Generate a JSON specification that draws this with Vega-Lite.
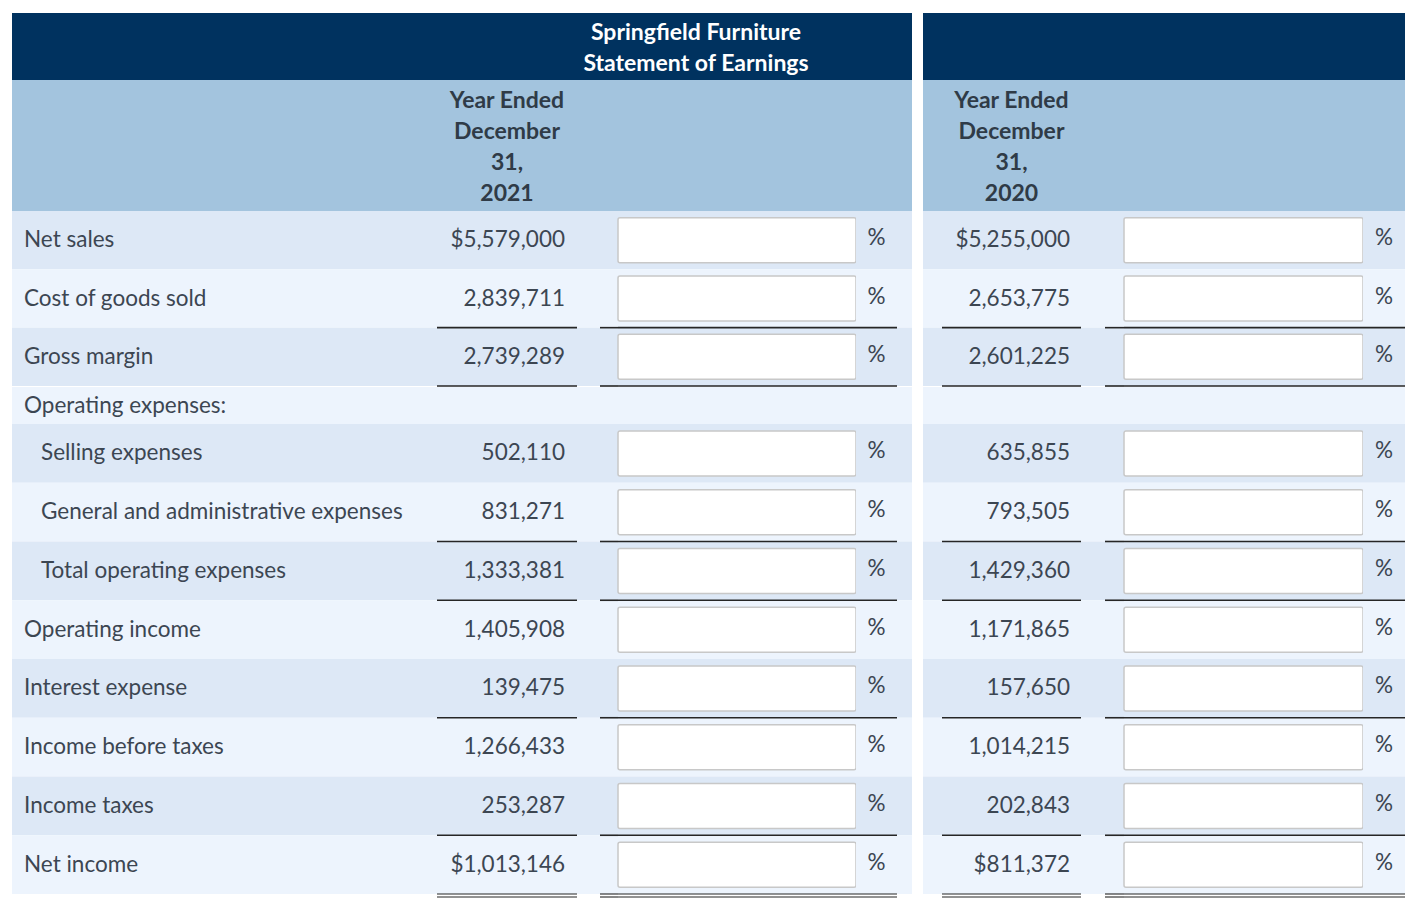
{
  "$schema": "https://vega.github.io/schema/vega-lite/v6.json",
  "padding": {"left": 12, "top": 13, "right": 0, "bottom": 0},
  "background": "white",
  "config": {"view": {"stroke": null}, "concat": {"spacing": 0}, "text": {"font": "Lato"}},
  "datasets": {
    "lines": [
      {"n": 1, "item": "Net sales", "level": 0, "y2021": 5579000, "y2020": 5255000},
      {"n": 2, "item": "Cost of goods sold", "level": 0, "y2021": 2839711, "y2020": 2653775},
      {"n": 3, "item": "Gross margin", "level": 0, "y2021": 2739289, "y2020": 2601225},
      {"n": 4, "item": "Operating expenses:", "level": 0, "y2021": null, "y2020": null},
      {"n": 5, "item": "Selling expenses", "level": 1, "y2021": 502110, "y2020": 635855},
      {"n": 6, "item": "General and administrative expenses", "level": 1, "y2021": 831271, "y2020": 793505},
      {"n": 7, "item": "Total operating expenses", "level": 1, "y2021": 1333381, "y2020": 1429360},
      {"n": 8, "item": "Operating income", "level": 0, "y2021": 1405908, "y2020": 1171865},
      {"n": 9, "item": "Interest expense", "level": 0, "y2021": 139475, "y2020": 157650},
      {"n": 10, "item": "Income before taxes", "level": 0, "y2021": 1266433, "y2020": 1014215},
      {"n": 11, "item": "Income taxes", "level": 0, "y2021": 253287, "y2020": 202843},
      {"n": 12, "item": "Net income", "level": 0, "y2021": 1013146, "y2020": 811372}
    ]
  },
  "spacing": 11,
  "hconcat": [
    {
      "spacing": 0,
      "vconcat": [
        {
          "spacing": 0,
          "bounds": "flush",
          "hconcat": [
            {"width": 468, "height": 67, "data": {"values": [{}]}, "mark": {"type": "rect", "fill": "#00325f"}, "encoding": {}},
            {"width": 432, "height": 67, "data": {"values": [{"heading": "Springfield Furniture\nStatement of Earnings"}]},
              "layer": [
                {"mark": {"type": "rect", "fill": "#00325f"}, "encoding": {}},
                {"mark": {"type": "text", "fontSize": 23, "fontWeight": "bold", "color": "#ffffff", "lineBreak": "\n", "lineHeight": 31, "align": "center", "baseline": "middle", "dy": -14}, "encoding": {"text": {"field": "heading"}}}
              ]}
          ]
        },
        {
          "spacing": 0,
          "bounds": "flush",
          "hconcat": [
            {"width": 425, "height": 131, "data": {"values": [{}]}, "mark": {"type": "rect", "fill": "#a3c4de"}, "encoding": {}},
            {"width": 140, "height": 131, "data": {"values": [{"period": "Year Ended\nDecember\n31,\n2021"}]},
              "layer": [
                {"mark": {"type": "rect", "fill": "#a3c4de"}, "encoding": {}},
                {"mark": {"type": "text", "fontSize": 23, "fontWeight": "bold", "color": "#2f3b47", "lineBreak": "\n", "lineHeight": 31, "align": "center", "baseline": "middle", "dy": -45}, "encoding": {"text": {"field": "period"}}}
              ]},
            {"width": 335, "height": 131, "data": {"values": [{}]}, "mark": {"type": "rect", "fill": "#a3c4de"}, "encoding": {}}
          ]
        },
        {
          "spacing": 0,
          "bounds": "flush",
          "hconcat": [
            {"width": 425, "height": 175, "data": {"name": "lines"}, "transform": [{"filter": "datum.n <= 3"}],
              "layer": [
                {"mark": {"type": "rect"}, "encoding": {"y": {"field": "n", "type": "ordinal", "axis": null, "scale": {"paddingInner": 0, "paddingOuter": 0}}, "color": {"condition": {"test": "datum.n % 2 == 1", "value": "#dde8f6"}, "value": "#edf4fd"}}},
                {"mark": {"type": "text", "align": "left", "baseline": "middle", "fontSize": 22.5, "color": "#3c4652"},
                  "encoding": {"y": {"field": "n", "type": "ordinal", "axis": null}, "x": {"field": "level", "type": "quantitative", "axis": null, "scale": {"domain": [0, 1], "range": [12, 29]}}, "text": {"field": "item"}}}
              ]},
            {"width": 140, "height": 175, "data": {"name": "lines"}, "transform": [{"filter": "datum.n <= 3"}],
              "layer": [
                {"mark": {"type": "rect"}, "encoding": {"y": {"field": "n", "type": "ordinal", "axis": null, "scale": {"paddingInner": 0, "paddingOuter": 0}}, "color": {"condition": {"test": "datum.n % 2 == 1", "value": "#dde8f6"}, "value": "#edf4fd"}}},
                {"transform": [{"filter": "datum.n != 1 && datum.n != 12"}], "mark": {"type": "text", "align": "right", "baseline": "middle", "x": "width", "dx": -12, "fontSize": 22.5, "color": "#3c4652"}, "encoding": {"y": {"field": "n", "type": "ordinal", "axis": null}, "text": {"field": "y2021", "type": "quantitative", "format": ",d"}}},
                {"transform": [{"filter": "datum.n == 1 || datum.n == 12"}], "mark": {"type": "text", "align": "right", "baseline": "middle", "x": "width", "dx": -12, "fontSize": 22.5, "color": "#3c4652"}, "encoding": {"y": {"field": "n", "type": "ordinal", "axis": null}, "text": {"field": "y2021", "type": "quantitative", "format": "$,d"}}},
                {"transform": [{"filter": {"field": "n", "oneOf": [2, 3, 6, 7, 9, 11]}}], "mark": {"type": "rule", "color": "#262626", "strokeWidth": 1.6}, "encoding": {"y": {"field": "n", "type": "ordinal", "axis": null, "bandPosition": 1}}}
              ]},
            {"width": 23, "height": 175, "data": {"name": "lines"}, "transform": [{"filter": "datum.n <= 3"}],
              "layer": [
                {"mark": {"type": "rect"}, "encoding": {"y": {"field": "n", "type": "ordinal", "axis": null, "scale": {"paddingInner": 0, "paddingOuter": 0}}, "color": {"condition": {"test": "datum.n % 2 == 1", "value": "#dde8f6"}, "value": "#edf4fd"}}}
              ]},
            {"width": 18, "height": 175, "data": {"name": "lines"}, "transform": [{"filter": "datum.n <= 3"}],
              "layer": [
                {"mark": {"type": "rect"}, "encoding": {"y": {"field": "n", "type": "ordinal", "axis": null, "scale": {"paddingInner": 0, "paddingOuter": 0}}, "color": {"condition": {"test": "datum.n % 2 == 1", "value": "#dde8f6"}, "value": "#edf4fd"}}},
                {"transform": [{"filter": {"field": "n", "oneOf": [2, 3, 6, 7, 9, 11]}}], "mark": {"type": "rule", "color": "#262626", "strokeWidth": 1.6}, "encoding": {"y": {"field": "n", "type": "ordinal", "axis": null, "bandPosition": 1}}}
              ]},
            {"width": 238, "height": 175, "data": {"name": "lines"}, "transform": [{"filter": "datum.n <= 3"}],
              "layer": [
                {"mark": {"type": "rect"}, "encoding": {"y": {"field": "n", "type": "ordinal", "axis": null, "scale": {"paddingInner": 0, "paddingOuter": 0}}, "color": {"condition": {"test": "datum.n % 2 == 1", "value": "#dde8f6"}, "value": "#edf4fd"}}},
                {"mark": {"type": "rect", "height": 45, "fill": "#ffffff", "stroke": "#c8c8c8", "strokeWidth": 1.5, "cornerRadius": 2}, "encoding": {"y": {"field": "n", "type": "ordinal", "axis": null}}},
                {"transform": [{"filter": {"field": "n", "oneOf": [2, 3, 6, 7, 9, 11]}}], "mark": {"type": "rule", "color": "#262626", "strokeWidth": 1.6}, "encoding": {"y": {"field": "n", "type": "ordinal", "axis": null, "bandPosition": 1}}}
              ]},
            {"width": 41, "height": 175, "data": {"name": "lines"}, "transform": [{"filter": "datum.n <= 3"}],
              "layer": [
                {"mark": {"type": "rect"}, "encoding": {"y": {"field": "n", "type": "ordinal", "axis": null, "scale": {"paddingInner": 0, "paddingOuter": 0}}, "color": {"condition": {"test": "datum.n % 2 == 1", "value": "#dde8f6"}, "value": "#edf4fd"}}},
                {"mark": {"type": "text", "align": "center", "baseline": "middle", "fontSize": 22.5, "color": "#3c4652", "dy": -2}, "encoding": {"y": {"field": "n", "type": "ordinal", "axis": null}, "text": {"value": "%"}}},
                {"transform": [{"filter": {"field": "n", "oneOf": [2, 3, 6, 7, 9, 11]}}], "mark": {"type": "rule", "color": "#262626", "strokeWidth": 1.6}, "encoding": {"y": {"field": "n", "type": "ordinal", "axis": null, "bandPosition": 1}}}
              ]},
            {"width": 15, "height": 175, "data": {"name": "lines"}, "transform": [{"filter": "datum.n <= 3"}],
              "layer": [
                {"mark": {"type": "rect"}, "encoding": {"y": {"field": "n", "type": "ordinal", "axis": null, "scale": {"paddingInner": 0, "paddingOuter": 0}}, "color": {"condition": {"test": "datum.n % 2 == 1", "value": "#dde8f6"}, "value": "#edf4fd"}}}
              ]}
          ]
        },
        {"width": 900, "height": 37, "data": {"name": "lines"}, "transform": [{"filter": "datum.n == 4"}],
          "layer": [
            {"mark": {"type": "rect", "fill": "#edf4fd"}, "encoding": {}},
            {"mark": {"type": "text", "align": "left", "baseline": "middle", "fontSize": 22.5, "color": "#3c4652"},
              "encoding": {"x": {"field": "level", "type": "quantitative", "axis": null, "scale": {"domain": [0, 1], "range": [12, 29]}}, "text": {"field": "item"}}}
          ]},
        {
          "spacing": 0,
          "bounds": "flush",
          "hconcat": [
            {"width": 425, "height": 470, "data": {"name": "lines"}, "transform": [{"filter": "datum.n >= 5"}],
              "layer": [
                {"mark": {"type": "rect"}, "encoding": {"y": {"field": "n", "type": "ordinal", "axis": null, "scale": {"paddingInner": 0, "paddingOuter": 0}}, "color": {"condition": {"test": "datum.n % 2 == 1", "value": "#dde8f6"}, "value": "#edf4fd"}}},
                {"mark": {"type": "text", "align": "left", "baseline": "middle", "fontSize": 22.5, "color": "#3c4652"},
                  "encoding": {"y": {"field": "n", "type": "ordinal", "axis": null}, "x": {"field": "level", "type": "quantitative", "axis": null, "scale": {"domain": [0, 1], "range": [12, 29]}}, "text": {"field": "item"}}}
              ]},
            {"width": 140, "height": 470, "data": {"name": "lines"}, "transform": [{"filter": "datum.n >= 5"}],
              "layer": [
                {"mark": {"type": "rect"}, "encoding": {"y": {"field": "n", "type": "ordinal", "axis": null, "scale": {"paddingInner": 0, "paddingOuter": 0}}, "color": {"condition": {"test": "datum.n % 2 == 1", "value": "#dde8f6"}, "value": "#edf4fd"}}},
                {"transform": [{"filter": "datum.n != 1 && datum.n != 12"}], "mark": {"type": "text", "align": "right", "baseline": "middle", "x": "width", "dx": -12, "fontSize": 22.5, "color": "#3c4652"}, "encoding": {"y": {"field": "n", "type": "ordinal", "axis": null}, "text": {"field": "y2021", "type": "quantitative", "format": ",d"}}},
                {"transform": [{"filter": "datum.n == 1 || datum.n == 12"}], "mark": {"type": "text", "align": "right", "baseline": "middle", "x": "width", "dx": -12, "fontSize": 22.5, "color": "#3c4652"}, "encoding": {"y": {"field": "n", "type": "ordinal", "axis": null}, "text": {"field": "y2021", "type": "quantitative", "format": "$,d"}}},
                {"transform": [{"filter": {"field": "n", "oneOf": [2, 3, 6, 7, 9, 11]}}], "mark": {"type": "rule", "color": "#262626", "strokeWidth": 1.6}, "encoding": {"y": {"field": "n", "type": "ordinal", "axis": null, "bandPosition": 1}}},
                {"transform": [{"filter": "datum.n == 12"}], "mark": {"type": "rule", "color": "#262626", "strokeWidth": 1.1}, "encoding": {"y": {"field": "n", "type": "ordinal", "axis": null, "bandPosition": 1}}},
                {"transform": [{"filter": "datum.n == 12"}], "mark": {"type": "rule", "color": "#262626", "strokeWidth": 1.1, "yOffset": 3}, "encoding": {"y": {"field": "n", "type": "ordinal", "axis": null, "bandPosition": 1}}}
              ]},
            {"width": 23, "height": 470, "data": {"name": "lines"}, "transform": [{"filter": "datum.n >= 5"}],
              "layer": [
                {"mark": {"type": "rect"}, "encoding": {"y": {"field": "n", "type": "ordinal", "axis": null, "scale": {"paddingInner": 0, "paddingOuter": 0}}, "color": {"condition": {"test": "datum.n % 2 == 1", "value": "#dde8f6"}, "value": "#edf4fd"}}}
              ]},
            {"width": 18, "height": 470, "data": {"name": "lines"}, "transform": [{"filter": "datum.n >= 5"}],
              "layer": [
                {"mark": {"type": "rect"}, "encoding": {"y": {"field": "n", "type": "ordinal", "axis": null, "scale": {"paddingInner": 0, "paddingOuter": 0}}, "color": {"condition": {"test": "datum.n % 2 == 1", "value": "#dde8f6"}, "value": "#edf4fd"}}},
                {"transform": [{"filter": {"field": "n", "oneOf": [2, 3, 6, 7, 9, 11]}}], "mark": {"type": "rule", "color": "#262626", "strokeWidth": 1.6}, "encoding": {"y": {"field": "n", "type": "ordinal", "axis": null, "bandPosition": 1}}},
                {"transform": [{"filter": "datum.n == 12"}], "mark": {"type": "rule", "color": "#262626", "strokeWidth": 1.1}, "encoding": {"y": {"field": "n", "type": "ordinal", "axis": null, "bandPosition": 1}}},
                {"transform": [{"filter": "datum.n == 12"}], "mark": {"type": "rule", "color": "#262626", "strokeWidth": 1.1, "yOffset": 3}, "encoding": {"y": {"field": "n", "type": "ordinal", "axis": null, "bandPosition": 1}}}
              ]},
            {"width": 238, "height": 470, "data": {"name": "lines"}, "transform": [{"filter": "datum.n >= 5"}],
              "layer": [
                {"mark": {"type": "rect"}, "encoding": {"y": {"field": "n", "type": "ordinal", "axis": null, "scale": {"paddingInner": 0, "paddingOuter": 0}}, "color": {"condition": {"test": "datum.n % 2 == 1", "value": "#dde8f6"}, "value": "#edf4fd"}}},
                {"mark": {"type": "rect", "height": 45, "fill": "#ffffff", "stroke": "#c8c8c8", "strokeWidth": 1.5, "cornerRadius": 2}, "encoding": {"y": {"field": "n", "type": "ordinal", "axis": null}}},
                {"transform": [{"filter": {"field": "n", "oneOf": [2, 3, 6, 7, 9, 11]}}], "mark": {"type": "rule", "color": "#262626", "strokeWidth": 1.6}, "encoding": {"y": {"field": "n", "type": "ordinal", "axis": null, "bandPosition": 1}}},
                {"transform": [{"filter": "datum.n == 12"}], "mark": {"type": "rule", "color": "#262626", "strokeWidth": 1.1}, "encoding": {"y": {"field": "n", "type": "ordinal", "axis": null, "bandPosition": 1}}},
                {"transform": [{"filter": "datum.n == 12"}], "mark": {"type": "rule", "color": "#262626", "strokeWidth": 1.1, "yOffset": 3}, "encoding": {"y": {"field": "n", "type": "ordinal", "axis": null, "bandPosition": 1}}}
              ]},
            {"width": 41, "height": 470, "data": {"name": "lines"}, "transform": [{"filter": "datum.n >= 5"}],
              "layer": [
                {"mark": {"type": "rect"}, "encoding": {"y": {"field": "n", "type": "ordinal", "axis": null, "scale": {"paddingInner": 0, "paddingOuter": 0}}, "color": {"condition": {"test": "datum.n % 2 == 1", "value": "#dde8f6"}, "value": "#edf4fd"}}},
                {"mark": {"type": "text", "align": "center", "baseline": "middle", "fontSize": 22.5, "color": "#3c4652", "dy": -2}, "encoding": {"y": {"field": "n", "type": "ordinal", "axis": null}, "text": {"value": "%"}}},
                {"transform": [{"filter": {"field": "n", "oneOf": [2, 3, 6, 7, 9, 11]}}], "mark": {"type": "rule", "color": "#262626", "strokeWidth": 1.6}, "encoding": {"y": {"field": "n", "type": "ordinal", "axis": null, "bandPosition": 1}}},
                {"transform": [{"filter": "datum.n == 12"}], "mark": {"type": "rule", "color": "#262626", "strokeWidth": 1.1}, "encoding": {"y": {"field": "n", "type": "ordinal", "axis": null, "bandPosition": 1}}},
                {"transform": [{"filter": "datum.n == 12"}], "mark": {"type": "rule", "color": "#262626", "strokeWidth": 1.1, "yOffset": 3}, "encoding": {"y": {"field": "n", "type": "ordinal", "axis": null, "bandPosition": 1}}}
              ]},
            {"width": 15, "height": 470, "data": {"name": "lines"}, "transform": [{"filter": "datum.n >= 5"}],
              "layer": [
                {"mark": {"type": "rect"}, "encoding": {"y": {"field": "n", "type": "ordinal", "axis": null, "scale": {"paddingInner": 0, "paddingOuter": 0}}, "color": {"condition": {"test": "datum.n % 2 == 1", "value": "#dde8f6"}, "value": "#edf4fd"}}}
              ]}
          ]
        }
      ]
    },
    {
      "spacing": 0,
      "vconcat": [
        {"width": 482, "height": 67, "data": {"values": [{}]}, "mark": {"type": "rect", "fill": "#00325f"}, "encoding": {}},
        {
          "spacing": 0,
          "bounds": "flush",
          "hconcat": [
            {"width": 19, "height": 131, "data": {"values": [{}]}, "mark": {"type": "rect", "fill": "#a3c4de"}, "encoding": {}},
            {"width": 139, "height": 131, "data": {"values": [{"period": "Year Ended\nDecember\n31,\n2020"}]},
              "layer": [
                {"mark": {"type": "rect", "fill": "#a3c4de"}, "encoding": {}},
                {"mark": {"type": "text", "fontSize": 23, "fontWeight": "bold", "color": "#2f3b47", "lineBreak": "\n", "lineHeight": 31, "align": "center", "baseline": "middle", "dy": -45}, "encoding": {"text": {"field": "period"}}}
              ]},
            {"width": 324, "height": 131, "data": {"values": [{}]}, "mark": {"type": "rect", "fill": "#a3c4de"}, "encoding": {}}
          ]
        },
        {
          "spacing": 0,
          "bounds": "flush",
          "hconcat": [
            {"width": 19, "height": 175, "data": {"name": "lines"}, "transform": [{"filter": "datum.n <= 3"}],
              "layer": [
                {"mark": {"type": "rect"}, "encoding": {"y": {"field": "n", "type": "ordinal", "axis": null, "scale": {"paddingInner": 0, "paddingOuter": 0}}, "color": {"condition": {"test": "datum.n % 2 == 1", "value": "#dde8f6"}, "value": "#edf4fd"}}}
              ]},
            {"width": 139, "height": 175, "data": {"name": "lines"}, "transform": [{"filter": "datum.n <= 3"}],
              "layer": [
                {"mark": {"type": "rect"}, "encoding": {"y": {"field": "n", "type": "ordinal", "axis": null, "scale": {"paddingInner": 0, "paddingOuter": 0}}, "color": {"condition": {"test": "datum.n % 2 == 1", "value": "#dde8f6"}, "value": "#edf4fd"}}},
                {"transform": [{"filter": "datum.n != 1 && datum.n != 12"}], "mark": {"type": "text", "align": "right", "baseline": "middle", "x": "width", "dx": -11, "fontSize": 22.5, "color": "#3c4652"}, "encoding": {"y": {"field": "n", "type": "ordinal", "axis": null}, "text": {"field": "y2020", "type": "quantitative", "format": ",d"}}},
                {"transform": [{"filter": "datum.n == 1 || datum.n == 12"}], "mark": {"type": "text", "align": "right", "baseline": "middle", "x": "width", "dx": -11, "fontSize": 22.5, "color": "#3c4652"}, "encoding": {"y": {"field": "n", "type": "ordinal", "axis": null}, "text": {"field": "y2020", "type": "quantitative", "format": "$,d"}}},
                {"transform": [{"filter": {"field": "n", "oneOf": [2, 3, 6, 7, 9, 11]}}], "mark": {"type": "rule", "color": "#262626", "strokeWidth": 1.6}, "encoding": {"y": {"field": "n", "type": "ordinal", "axis": null, "bandPosition": 1}}}
              ]},
            {"width": 24, "height": 175, "data": {"name": "lines"}, "transform": [{"filter": "datum.n <= 3"}],
              "layer": [
                {"mark": {"type": "rect"}, "encoding": {"y": {"field": "n", "type": "ordinal", "axis": null, "scale": {"paddingInner": 0, "paddingOuter": 0}}, "color": {"condition": {"test": "datum.n % 2 == 1", "value": "#dde8f6"}, "value": "#edf4fd"}}}
              ]},
            {"width": 19, "height": 175, "data": {"name": "lines"}, "transform": [{"filter": "datum.n <= 3"}],
              "layer": [
                {"mark": {"type": "rect"}, "encoding": {"y": {"field": "n", "type": "ordinal", "axis": null, "scale": {"paddingInner": 0, "paddingOuter": 0}}, "color": {"condition": {"test": "datum.n % 2 == 1", "value": "#dde8f6"}, "value": "#edf4fd"}}},
                {"transform": [{"filter": {"field": "n", "oneOf": [2, 3, 6, 7, 9, 11]}}], "mark": {"type": "rule", "color": "#262626", "strokeWidth": 1.6}, "encoding": {"y": {"field": "n", "type": "ordinal", "axis": null, "bandPosition": 1}}}
              ]},
            {"width": 239, "height": 175, "data": {"name": "lines"}, "transform": [{"filter": "datum.n <= 3"}],
              "layer": [
                {"mark": {"type": "rect"}, "encoding": {"y": {"field": "n", "type": "ordinal", "axis": null, "scale": {"paddingInner": 0, "paddingOuter": 0}}, "color": {"condition": {"test": "datum.n % 2 == 1", "value": "#dde8f6"}, "value": "#edf4fd"}}},
                {"mark": {"type": "rect", "height": 45, "fill": "#ffffff", "stroke": "#c8c8c8", "strokeWidth": 1.5, "cornerRadius": 2}, "encoding": {"y": {"field": "n", "type": "ordinal", "axis": null}}},
                {"transform": [{"filter": {"field": "n", "oneOf": [2, 3, 6, 7, 9, 11]}}], "mark": {"type": "rule", "color": "#262626", "strokeWidth": 1.6}, "encoding": {"y": {"field": "n", "type": "ordinal", "axis": null, "bandPosition": 1}}}
              ]},
            {"width": 42, "height": 175, "data": {"name": "lines"}, "transform": [{"filter": "datum.n <= 3"}],
              "layer": [
                {"mark": {"type": "rect"}, "encoding": {"y": {"field": "n", "type": "ordinal", "axis": null, "scale": {"paddingInner": 0, "paddingOuter": 0}}, "color": {"condition": {"test": "datum.n % 2 == 1", "value": "#dde8f6"}, "value": "#edf4fd"}}},
                {"mark": {"type": "text", "align": "center", "baseline": "middle", "fontSize": 22.5, "color": "#3c4652", "dy": -2}, "encoding": {"y": {"field": "n", "type": "ordinal", "axis": null}, "text": {"value": "%"}}},
                {"transform": [{"filter": {"field": "n", "oneOf": [2, 3, 6, 7, 9, 11]}}], "mark": {"type": "rule", "color": "#262626", "strokeWidth": 1.6}, "encoding": {"y": {"field": "n", "type": "ordinal", "axis": null, "bandPosition": 1}}}
              ]}
          ]
        },
        {"width": 482, "height": 37, "data": {"values": [{}]}, "mark": {"type": "rect", "fill": "#edf4fd"}, "encoding": {}},
        {
          "spacing": 0,
          "bounds": "flush",
          "hconcat": [
            {"width": 19, "height": 470, "data": {"name": "lines"}, "transform": [{"filter": "datum.n >= 5"}],
              "layer": [
                {"mark": {"type": "rect"}, "encoding": {"y": {"field": "n", "type": "ordinal", "axis": null, "scale": {"paddingInner": 0, "paddingOuter": 0}}, "color": {"condition": {"test": "datum.n % 2 == 1", "value": "#dde8f6"}, "value": "#edf4fd"}}}
              ]},
            {"width": 139, "height": 470, "data": {"name": "lines"}, "transform": [{"filter": "datum.n >= 5"}],
              "layer": [
                {"mark": {"type": "rect"}, "encoding": {"y": {"field": "n", "type": "ordinal", "axis": null, "scale": {"paddingInner": 0, "paddingOuter": 0}}, "color": {"condition": {"test": "datum.n % 2 == 1", "value": "#dde8f6"}, "value": "#edf4fd"}}},
                {"transform": [{"filter": "datum.n != 1 && datum.n != 12"}], "mark": {"type": "text", "align": "right", "baseline": "middle", "x": "width", "dx": -11, "fontSize": 22.5, "color": "#3c4652"}, "encoding": {"y": {"field": "n", "type": "ordinal", "axis": null}, "text": {"field": "y2020", "type": "quantitative", "format": ",d"}}},
                {"transform": [{"filter": "datum.n == 1 || datum.n == 12"}], "mark": {"type": "text", "align": "right", "baseline": "middle", "x": "width", "dx": -11, "fontSize": 22.5, "color": "#3c4652"}, "encoding": {"y": {"field": "n", "type": "ordinal", "axis": null}, "text": {"field": "y2020", "type": "quantitative", "format": "$,d"}}},
                {"transform": [{"filter": {"field": "n", "oneOf": [2, 3, 6, 7, 9, 11]}}], "mark": {"type": "rule", "color": "#262626", "strokeWidth": 1.6}, "encoding": {"y": {"field": "n", "type": "ordinal", "axis": null, "bandPosition": 1}}},
                {"transform": [{"filter": "datum.n == 12"}], "mark": {"type": "rule", "color": "#262626", "strokeWidth": 1.1}, "encoding": {"y": {"field": "n", "type": "ordinal", "axis": null, "bandPosition": 1}}},
                {"transform": [{"filter": "datum.n == 12"}], "mark": {"type": "rule", "color": "#262626", "strokeWidth": 1.1, "yOffset": 3}, "encoding": {"y": {"field": "n", "type": "ordinal", "axis": null, "bandPosition": 1}}}
              ]},
            {"width": 24, "height": 470, "data": {"name": "lines"}, "transform": [{"filter": "datum.n >= 5"}],
              "layer": [
                {"mark": {"type": "rect"}, "encoding": {"y": {"field": "n", "type": "ordinal", "axis": null, "scale": {"paddingInner": 0, "paddingOuter": 0}}, "color": {"condition": {"test": "datum.n % 2 == 1", "value": "#dde8f6"}, "value": "#edf4fd"}}}
              ]},
            {"width": 19, "height": 470, "data": {"name": "lines"}, "transform": [{"filter": "datum.n >= 5"}],
              "layer": [
                {"mark": {"type": "rect"}, "encoding": {"y": {"field": "n", "type": "ordinal", "axis": null, "scale": {"paddingInner": 0, "paddingOuter": 0}}, "color": {"condition": {"test": "datum.n % 2 == 1", "value": "#dde8f6"}, "value": "#edf4fd"}}},
                {"transform": [{"filter": {"field": "n", "oneOf": [2, 3, 6, 7, 9, 11]}}], "mark": {"type": "rule", "color": "#262626", "strokeWidth": 1.6}, "encoding": {"y": {"field": "n", "type": "ordinal", "axis": null, "bandPosition": 1}}},
                {"transform": [{"filter": "datum.n == 12"}], "mark": {"type": "rule", "color": "#262626", "strokeWidth": 1.1}, "encoding": {"y": {"field": "n", "type": "ordinal", "axis": null, "bandPosition": 1}}},
                {"transform": [{"filter": "datum.n == 12"}], "mark": {"type": "rule", "color": "#262626", "strokeWidth": 1.1, "yOffset": 3}, "encoding": {"y": {"field": "n", "type": "ordinal", "axis": null, "bandPosition": 1}}}
              ]},
            {"width": 239, "height": 470, "data": {"name": "lines"}, "transform": [{"filter": "datum.n >= 5"}],
              "layer": [
                {"mark": {"type": "rect"}, "encoding": {"y": {"field": "n", "type": "ordinal", "axis": null, "scale": {"paddingInner": 0, "paddingOuter": 0}}, "color": {"condition": {"test": "datum.n % 2 == 1", "value": "#dde8f6"}, "value": "#edf4fd"}}},
                {"mark": {"type": "rect", "height": 45, "fill": "#ffffff", "stroke": "#c8c8c8", "strokeWidth": 1.5, "cornerRadius": 2}, "encoding": {"y": {"field": "n", "type": "ordinal", "axis": null}}},
                {"transform": [{"filter": {"field": "n", "oneOf": [2, 3, 6, 7, 9, 11]}}], "mark": {"type": "rule", "color": "#262626", "strokeWidth": 1.6}, "encoding": {"y": {"field": "n", "type": "ordinal", "axis": null, "bandPosition": 1}}},
                {"transform": [{"filter": "datum.n == 12"}], "mark": {"type": "rule", "color": "#262626", "strokeWidth": 1.1}, "encoding": {"y": {"field": "n", "type": "ordinal", "axis": null, "bandPosition": 1}}},
                {"transform": [{"filter": "datum.n == 12"}], "mark": {"type": "rule", "color": "#262626", "strokeWidth": 1.1, "yOffset": 3}, "encoding": {"y": {"field": "n", "type": "ordinal", "axis": null, "bandPosition": 1}}}
              ]},
            {"width": 42, "height": 470, "data": {"name": "lines"}, "transform": [{"filter": "datum.n >= 5"}],
              "layer": [
                {"mark": {"type": "rect"}, "encoding": {"y": {"field": "n", "type": "ordinal", "axis": null, "scale": {"paddingInner": 0, "paddingOuter": 0}}, "color": {"condition": {"test": "datum.n % 2 == 1", "value": "#dde8f6"}, "value": "#edf4fd"}}},
                {"mark": {"type": "text", "align": "center", "baseline": "middle", "fontSize": 22.5, "color": "#3c4652", "dy": -2}, "encoding": {"y": {"field": "n", "type": "ordinal", "axis": null}, "text": {"value": "%"}}},
                {"transform": [{"filter": {"field": "n", "oneOf": [2, 3, 6, 7, 9, 11]}}], "mark": {"type": "rule", "color": "#262626", "strokeWidth": 1.6}, "encoding": {"y": {"field": "n", "type": "ordinal", "axis": null, "bandPosition": 1}}},
                {"transform": [{"filter": "datum.n == 12"}], "mark": {"type": "rule", "color": "#262626", "strokeWidth": 1.1}, "encoding": {"y": {"field": "n", "type": "ordinal", "axis": null, "bandPosition": 1}}},
                {"transform": [{"filter": "datum.n == 12"}], "mark": {"type": "rule", "color": "#262626", "strokeWidth": 1.1, "yOffset": 3}, "encoding": {"y": {"field": "n", "type": "ordinal", "axis": null, "bandPosition": 1}}}
              ]}
          ]
        }
      ]
    }
  ]
}
